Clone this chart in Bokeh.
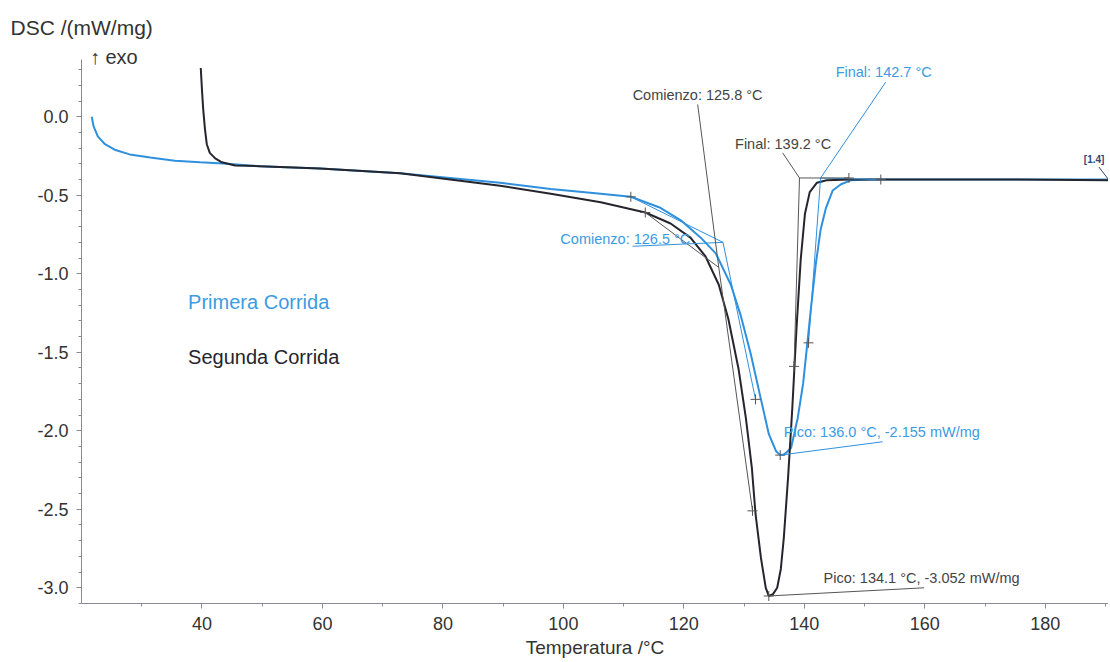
from bokeh.plotting import figure
from bokeh.models import Range1d, FixedTicker, NumeralTickFormatter, Label, Title
from bokeh.embed import file_html
from bokeh.resources import INLINE

# ---------------- data ----------------
# Primera Corrida (blue)
temp_run1 = [21.7, 22.0, 22.7, 23.9, 25.5, 28.0, 31.4, 35.5, 39.7, 44.2, 49.6, 59.6,
             72.9, 81.2, 89.5, 97.9, 106.2, 111.2, 116.1, 119.5, 122.8, 125.3, 127.8,
             129.4, 131.1, 132.8, 134.1, 135.3, 136.0, 136.7, 137.8, 138.9, 139.8, 140.4,
             141.1, 141.9, 142.7, 143.6, 144.7, 146.1, 147.7, 151.1, 160.0, 172.7, 190.6]
dsc_run1 = [0.0, -0.06, -0.125, -0.175, -0.21, -0.24, -0.26, -0.28, -0.29, -0.30, -0.315, -0.33,
            -0.36, -0.39, -0.42, -0.46, -0.49, -0.51, -0.58, -0.66, -0.77, -0.87, -1.07,
            -1.26, -1.51, -1.80, -2.02, -2.13, -2.155, -2.15, -2.11, -1.92, -1.70, -1.48,
            -1.22, -0.94, -0.72, -0.58, -0.47, -0.43, -0.405, -0.40, -0.40, -0.40, -0.40]

# Segunda Corrida (black)
temp_run2 = [39.8, 40.0, 40.2, 40.5, 40.8, 41.3, 42.2, 43.3, 45.5, 49.6, 59.6, 72.9, 81.2,
             89.5, 97.9, 106.2, 113.6, 117.8, 121.1, 123.6, 125.8, 127.4, 129.1, 130.3,
             131.3, 131.9, 132.8, 133.6, 134.1, 134.8, 135.5, 136.1, 136.6, 137.3, 138.0,
             138.7, 139.4, 140.1, 140.9, 142.1, 143.7, 147.7, 160.0, 175.0, 190.6]
dsc_run2 = [0.31, 0.17, 0.05, -0.08, -0.175, -0.23, -0.265, -0.29, -0.31, -0.315, -0.33, -0.36, -0.40,
            -0.44, -0.49, -0.545, -0.61, -0.68, -0.77, -0.89, -1.07, -1.29, -1.61, -1.92,
            -2.24, -2.53, -2.81, -3.00, -3.052, -3.04, -3.00, -2.88, -2.68, -2.30, -1.86,
            -1.35, -0.91, -0.62, -0.48, -0.42, -0.405, -0.40, -0.40, -0.40, -0.405]

# evaluation results: index 0 = Primera Corrida, 1 = Segunda Corrida
onset_T = [126.5, 125.8]
onset_y = [-0.80, -0.96]
onset_base_T = [111.2, 113.6]
onset_base_y = [-0.51, -0.61]
onset_tan_T = [131.9, 131.4]
onset_tan_y = [-1.80, -2.51]
final_T = [142.7, 139.2]
final_y = [-0.39, -0.39]
final_base_T = [152.7, 147.4]
final_base_y = [-0.40, -0.39]
final_tan_T = [140.7, 138.3]
final_tan_y = [-1.44, -1.59]
peak_T = [136.0, 134.1]
peak_y = [-2.155, -3.052]

x_ticks = [40, 60, 80, 100, 120, 140, 160, 180]
x_minor = [30, 50, 70, 90, 110, 130, 150, 170, 190]
y_ticks = [-3.0, -2.5, -2.0, -1.5, -1.0, -0.5, 0.0]
y_minor = [round(-3.1 + 0.1 * i, 1) for i in range(35)]

# ---------------- styling ----------------
BLUE = "#2f90dd"
BLUE_TXT = "#3c9be2"
BLACK = "#25252d"
GRAY = "#444444"
FONT = "Liberation Sans"

p = figure(width=1108, height=660, output_backend="svg", toolbar_location=None,
           x_range=Range1d(20, 190.5), y_range=Range1d(-3.10, 0.46),
           min_border_left=81, min_border_right=0, min_border_top=44, min_border_bottom=52)
p.outline_line_color = None
p.grid.visible = False
p.background_fill_color = "white"

for ax in (p.xaxis[0], p.yaxis[0]):
    ax.axis_line_color = "#8a8a96"
    ax.major_tick_line_color = "#8a8a96"
    ax.minor_tick_line_color = "#8a8a96"
    ax.major_tick_in = 0
    ax.major_tick_out = 5
    ax.minor_tick_in = 0
    ax.minor_tick_out = 3
    ax.major_label_text_font = FONT
    ax.major_label_text_font_size = "18px"
    ax.major_label_text_color = "#333333"

p.xaxis.ticker = FixedTicker(ticks=x_ticks, minor_ticks=x_minor)
p.yaxis.ticker = FixedTicker(ticks=y_ticks, minor_ticks=y_minor)
p.yaxis.formatter = NumeralTickFormatter(format="0.0")
p.yaxis.bounds = (-3.10, 0.364)
p.xaxis.major_label_standoff = 8
p.yaxis.major_label_standoff = 8
p.xaxis.axis_label = "Temperatura /°C"
p.xaxis.axis_label_text_font = FONT
p.xaxis.axis_label_text_font_size = "19px"
p.xaxis.axis_label_text_font_style = "normal"
p.xaxis.axis_label_text_color = "#333333"
p.xaxis.axis_label_standoff = 4

p.add_layout(Title(text="DSC /(mW/mg)", align="left", offset=-71, standoff=11,
                   text_font=FONT, text_font_size="21px", text_font_style="normal",
                   text_color="#333333"), "above")

# curves
p.line(temp_run1, dsc_run1, line_color=BLUE, line_width=2)
p.line(temp_run2, dsc_run2, line_color=BLACK, line_width=2)

# tangent constructions
line_cols = [BLUE, "#555555"]
for i in range(2):
    p.segment(x0=[onset_base_T[i], onset_T[i], final_T[i], final_T[i]],
              y0=[onset_base_y[i], onset_y[i], final_y[i], final_y[i]],
              x1=[onset_T[i], onset_tan_T[i], final_base_T[i], final_tan_T[i]],
              y1=[onset_y[i], onset_tan_y[i], final_base_y[i], final_tan_y[i]],
              line_color=line_cols[i], line_width=1)

# markers at construction points
mx = onset_base_T + onset_tan_T + final_base_T + final_tan_T + peak_T
my = onset_base_y + onset_tan_y + final_base_y + final_tan_y + peak_y
p.scatter(mx, my, marker="cross", size=10, line_color="#555555", line_width=1)

# leader lines (label anchors are layout positions)
p.segment(x0=[onset_T[0]], y0=[onset_y[0]], x1=[111.5], y1=[-0.825], line_color=BLUE, line_width=1)
p.segment(x0=[onset_T[1]], y0=[onset_y[1]], x1=[122.3], y1=[0.078], line_color="#555555", line_width=1)
p.segment(x0=[final_T[0]], y0=[final_y[0]], x1=[153.5], y1=[0.22], line_color=BLUE, line_width=1)
p.segment(x0=[final_T[1]], y0=[final_y[1]], x1=[136.4], y1=[-0.23], line_color="#555555", line_width=1)
p.segment(x0=[peak_T[0]], y0=[peak_y[0]], x1=[153.0], y1=[-2.07], line_color=BLUE, line_width=1)
p.segment(x0=[peak_T[1]], y0=[peak_y[1]], x1=[159.9], y1=[-3.0], line_color="#555555", line_width=1)
p.segment(x0=[188.9], y0=[-0.32], x1=[190.5], y1=[-0.40], line_color="#334477", line_width=1)


def lab(x, y, text, color, size="14px", style="normal"):
    p.add_layout(Label(x=x, y=y, text=text,
                       text_color=color, text_font=FONT, text_font_size=size,
                       text_baseline="middle", text_align="left", text_font_style=style))


lab(111.5, 0.141, "Comienzo: %.1f °C" % onset_T[1], GRAY, size="14.5px")
lab(99.5, -0.78, "Comienzo: %.1f °C" % onset_T[0], BLUE_TXT, size="14.5px")
lab(128.5, -0.176, "Final: %.1f °C" % final_T[1], GRAY, size="14.5px")
lab(145.2, 0.288, "Final: %.1f °C" % final_T[0], BLUE_TXT, size="14.5px")
lab(136.6, -2.006, "Pico: %.1f °C, %.3f mW/mg" % (peak_T[0], peak_y[0]), BLUE_TXT, size="14.5px")
lab(143.2, -2.94, "Pico: %.1f °C, %.3f mW/mg" % (peak_T[1], peak_y[1]), GRAY, size="14.5px")
lab(186.4, -0.27, "[1.4]", "#334477", size="10px", style="bold")
lab(37.7, -1.18, "Primera Corrida", BLUE_TXT, size="20px")
lab(37.7, -1.53, "Segunda Corrida", BLACK, size="20px")
lab(21.4, 0.383, "↑ exo", "#333333", size="20px")

open("out.html", "w").write(file_html(p, INLINE))
